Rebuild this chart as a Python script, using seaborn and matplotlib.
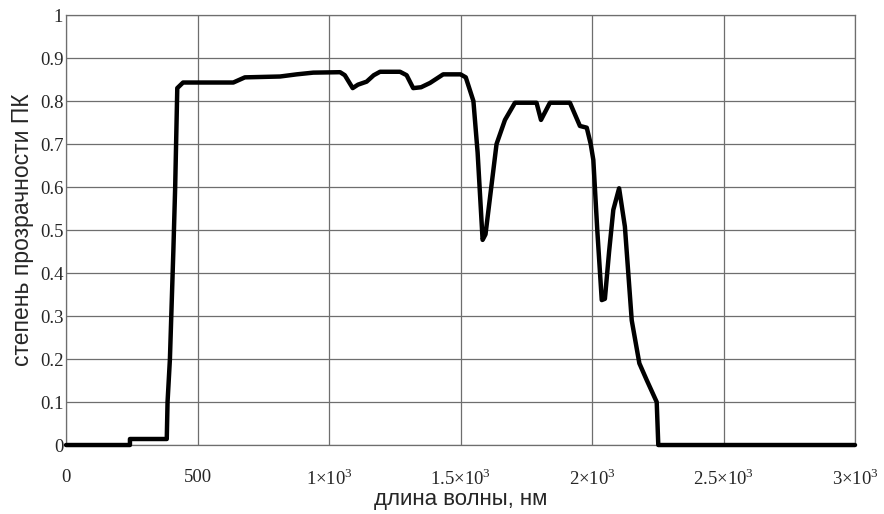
import pandas as pd
import seaborn as sns
import matplotlib.pyplot as plt

# ----------------------------
# Data
# ----------------------------
wavelength = [0, 243, 243, 383, 386, 395, 408, 415, 423, 445, 636, 680, 814,
              877, 940, 1042, 1060, 1090, 1110, 1143, 1170, 1194, 1270, 1295,
              1320, 1350, 1384, 1434, 1500, 1520, 1549, 1565, 1584, 1595,
              1637, 1669, 1707, 1789, 1806, 1840, 1916, 1954, 1980, 1995,
              2005, 2020, 2037, 2049, 2065, 2081, 2103, 2125, 2151, 2180,
              2208, 2246, 2252, 3000]
transparency = [0, 0, 0.014, 0.014, 0.1, 0.2, 0.45, 0.6, 0.83, 0.843, 0.843,
                0.855, 0.857, 0.862, 0.866, 0.867, 0.86, 0.83, 0.838, 0.845,
                0.86, 0.868, 0.868, 0.86, 0.83, 0.832, 0.842, 0.862, 0.862,
                0.855, 0.80, 0.68, 0.477, 0.49, 0.70, 0.756, 0.796, 0.796,
                0.756, 0.796, 0.796, 0.742, 0.738, 0.70, 0.663, 0.50, 0.337,
                0.34, 0.45, 0.547, 0.597, 0.508, 0.29, 0.19, 0.151, 0.10, 0, 0]

x_ticks = [0, 500, 1000, 1500, 2000, 2500, 3000]
x_tick_labels = ["0", "500", "1×10$^3$", "1.5×10$^3$", "2×10$^3$",
                 "2.5×10$^3$", "3×10$^3$"]
y_ticks = [0, 0.1, 0.2, 0.3, 0.4, 0.5, 0.6, 0.7, 0.8, 0.9, 1]
y_tick_labels = ["0", "0.1", "0.2", "0.3", "0.4", "0.5", "0.6", "0.7",
                 "0.8", "0.9", "1"]

df = pd.DataFrame({"wl": wavelength, "t": transparency})

# ----------------------------
# Plot
# ----------------------------
sns.set_style("white")
plt.rcParams["mathtext.fontset"] = "custom"
plt.rcParams["mathtext.rm"] = "Liberation Serif"

fig = plt.figure(figsize=(8.84, 5.14), dpi=100)
ax = fig.add_axes([0.0747, 0.1342, 0.8925, 0.8366])

sns.lineplot(data=df, x="wl", y="t", color="black", linewidth=3.2,
             ax=ax, sort=False, estimator=None, zorder=3, clip_on=False)

ax.set_xlim(0, 3000)
ax.set_ylim(0, 1)
ax.set_xticks(x_ticks)
ax.set_xticklabels(x_tick_labels, family="Liberation Serif", fontsize=13.5)
ax.set_yticks(y_ticks)
ax.set_yticklabels(y_tick_labels, family="Liberation Serif", fontsize=13.5)
ax.tick_params(axis="x", length=0, pad=17)
ax.tick_params(axis="y", length=0, pad=2)

ax.grid(True, color="#6e6e6e", linewidth=0.9)
for s in ax.spines.values():
    s.set_color("#6e6e6e")
    s.set_linewidth(0.9)

ax.set_xlabel("длина волны, нм", family="Liberation Sans", fontsize=16,
              labelpad=0)
ax.set_ylabel("степень прозрачности ПК", family="Liberation Sans",
              fontsize=16.5, labelpad=4)

fig.savefig("out.png", dpi=100)
